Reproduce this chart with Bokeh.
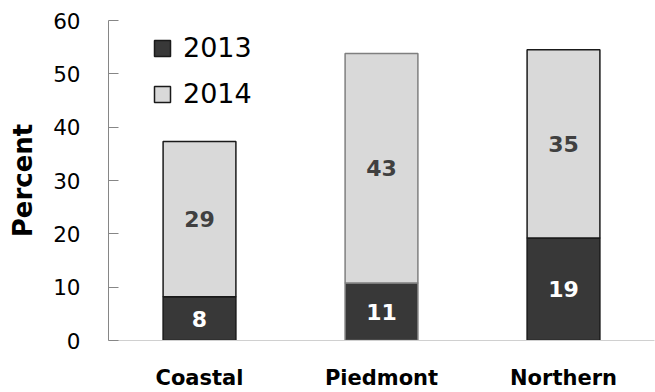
from bokeh.plotting import figure
from bokeh.models import ColumnDataSource, Range1d, FactorRange, FixedTicker, Legend, LegendItem
from bokeh.core.properties import value
from bokeh.embed import file_html
from bokeh.resources import INLINE

regions = ["Coastal", "Piedmont", "Northern"]
pct_2013 = [8.2, 10.8, 19.2]
pct_2014 = [29.1, 43.0, 35.3]
label_2013 = ["8", "11", "19"]
label_2014 = ["29", "43", "35"]
y_ticks = [0, 10, 20, 30, 40, 50, 60]

FONT = "DejaVu Sans"
C2013 = "#383838"
C2014 = "#d9d9d9"

tops_2013 = pct_2013
tops_2014 = [a + b for a, b in zip(pct_2013, pct_2014)]
src = ColumnDataSource(dict(
    region=regions,
    b0=[0] * len(regions),
    t13=tops_2013,
    t14=tops_2014,
    m13=[t / 2 for t in tops_2013],
    m14=[a + b / 2 for a, b in zip(pct_2013, pct_2014)],
    l13=label_2013,
    l14=label_2014,
    outline=["#1a1a1a", "#7f7f7f", "#1a1a1a"],
))

p = figure(width=655, height=392, x_range=FactorRange(*regions), y_range=Range1d(0, 60),
           output_backend="svg", toolbar_location=None,
           min_border_left=108, min_border_right=1, min_border_top=20, min_border_bottom=50)
p.outline_line_color = None
p.xgrid.visible = False
p.ygrid.visible = False
p.background_fill_color = "white"
p.border_fill_color = "white"

r13 = p.vbar(x="region", bottom="b0", top="t13", width=0.4, source=src,
             fill_color=C2013, line_color="outline", line_width=1.5)
r14 = p.vbar(x="region", bottom="t13", top="t14", width=0.4, source=src,
             fill_color=C2014, line_color="outline", line_width=1.5)

p.text(x="region", y="m14", text="l14", source=src, text_align="center", text_baseline="middle",
       text_font=value(FONT), text_font_style="bold", text_font_size="22px", text_color="#404040")
p.text(x="region", y="m13", text="l13", source=src, text_align="center", text_baseline="middle",
       text_font=value(FONT), text_font_style="bold", text_font_size="22px", text_color="white")

# y axis
ya = p.yaxis[0]
ya.ticker = FixedTicker(ticks=y_ticks)
ya.axis_label = "Percent"
ya.axis_label_text_font = FONT
ya.axis_label_text_font_style = "bold"
ya.axis_label_text_font_size = "26px"
ya.axis_label_text_color = "black"
ya.axis_label_standoff = 12
ya.major_label_text_font = FONT
ya.major_label_text_font_size = "21.5px"
ya.major_label_text_color = "black"
ya.major_label_standoff = 28
ya.major_tick_in = 10
ya.major_tick_out = 0
ya.minor_tick_line_color = None
ya.axis_line_color = "#868686"
ya.major_tick_line_color = "#868686"

# x axis
xa = p.xaxis[0]
xa.major_label_text_font = FONT
xa.major_label_text_font_style = "bold"
xa.major_label_text_font_size = "21px"
xa.major_label_text_color = "black"
xa.major_label_standoff = 25
xa.major_tick_in = 0
xa.major_tick_out = 0
xa.major_tick_line_color = None
xa.minor_tick_line_color = None
xa.axis_line_color = "#d0d0d0"

legend = Legend(items=[LegendItem(label="2013", renderers=[r13]),
                       LegendItem(label="2014", renderers=[r14])],
                location=(44, 231), orientation="vertical",
                glyph_width=20, glyph_height=20, label_standoff=11, spacing=15,
                padding=0, margin=0, border_line_color=None, background_fill_alpha=0,
                label_text_font=FONT, label_text_font_size="27px", label_text_color="black")
p.add_layout(legend, "center")

open("out.html", "w").write(file_html(p, INLINE))
